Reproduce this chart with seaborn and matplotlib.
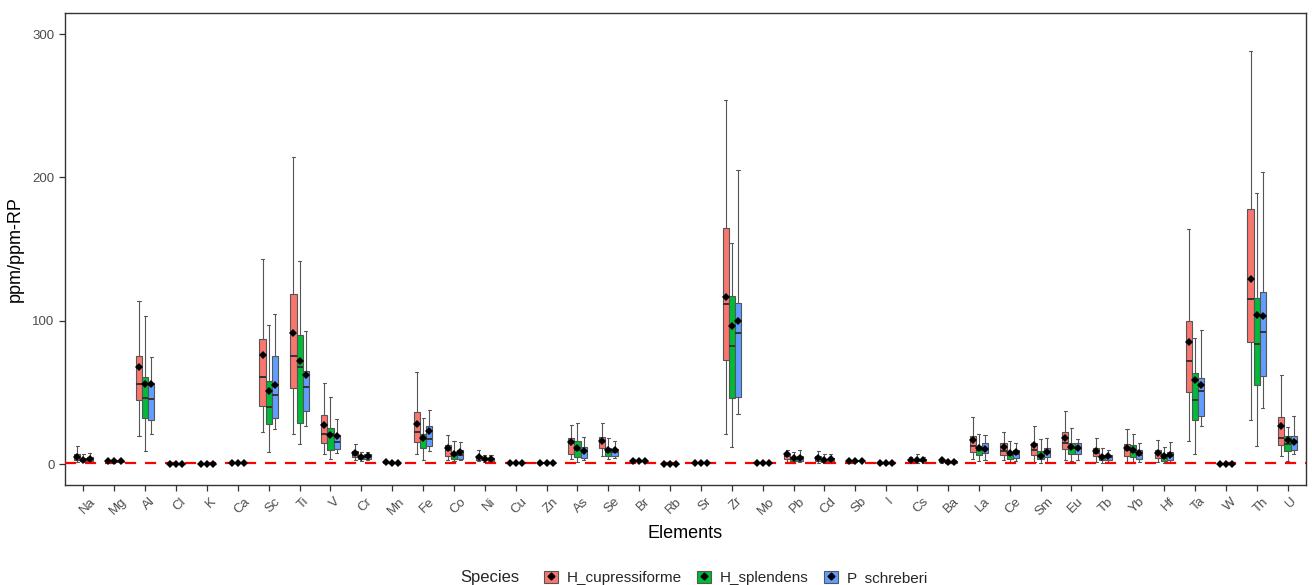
import pandas as pd
import numpy as np
import matplotlib
matplotlib.use('Agg')
import matplotlib.pyplot as plt
import matplotlib.transforms as mtransforms
from matplotlib.patches import Patch
from matplotlib.lines import Line2D
from matplotlib.legend_handler import HandlerTuple
import seaborn as sns

elements = ['Na', 'Mg', 'Al', 'Cl', 'K', 'Ca', 'Sc', 'Ti', 'V', 'Cr', 'Mn', 'Fe', 'Co', 'Ni',
            'Cu', 'Zn', 'As', 'Se', 'Br', 'Rb', 'Sr', 'Zr', 'Mo', 'Pb', 'Cd', 'Sb', 'I', 'Cs',
            'Ba', 'La', 'Ce', 'Sm', 'Eu', 'Tb', 'Yb', 'Hf', 'Ta', 'W', 'Th', 'U']
species = ['H_cupressiforme', 'H_splendens', 'P_schreberi']
colors = ['#F8766D', '#00BA38', '#619CFF']

# box stats per species: whisker low, Q1, median, Q3, whisker high, and mean
hc_lo = [1.5, 1.3, 19.3, 0.02, 0.02, 0.5, 22.3, 20.7, 6.7, 2.5, 0.5, 6.7, 2.8, 1.8, 0.3, 0.3, 3.5, 5.3, 1.5, 0.05,
         0.6, 21.2, 0.4, 1.5, 1.0, 1.5, 0.3, 1.0, 0.8, 3.5, 2.5, 1.5, 2.8, 1.5, 1.5, 1.5, 16.3, 0.05, 30.7, 5.6]
hc_q1 = [2.8, 1.6, 44.4, 0.05, 0.05, 0.7, 40.5, 52.8, 14.4, 4.7, 0.8, 15.1, 5.8, 3.0, 0.4, 0.4, 7.0, 10.9, 2.0, 0.1,
         0.8, 72.4, 0.6, 3.5, 2.0, 1.8, 0.5, 1.8, 1.5, 8.6, 6.3, 6.3, 10.2, 5.3, 5.8, 3.9, 50.0, 0.1, 85.3, 13.0]
hc_med = [4.0, 1.9, 56.0, 0.1, 0.1, 0.8, 60.5, 75.4, 20.7, 6.0, 1.1, 22.6, 9.8, 4.5, 0.5, 0.5, 14.4, 15.5, 2.3, 0.2,
          1.0, 112.0, 0.8, 5.5, 3.5, 2.1, 0.6, 2.5, 2.2, 12.6, 9.0, 9.8, 14.9, 7.5, 9.8, 7.4, 71.7, 0.2, 115.1, 18.4]
hc_q3 = [6.7, 2.2, 75.6, 0.15, 0.15, 1.0, 87.5, 118.6, 34.0, 9.1, 1.4, 36.0, 13.3, 5.8, 0.6, 0.6, 17.9, 18.6, 2.6, 0.3,
         1.2, 164.9, 1.0, 7.2, 5.5, 2.4, 0.7, 3.5, 3.0, 19.5, 14.7, 14.9, 22.6, 11.2, 14.0, 9.8, 99.8, 0.3, 177.7, 33.0]
hc_hi = [12.5, 2.6, 113.5, 0.3, 0.3, 1.3, 143.3, 214.2, 56.3, 14.2, 1.9, 64.4, 20.5, 9.5, 0.8, 0.8, 27.0, 28.8, 3.2, 0.4,
         1.5, 254.0, 1.3, 9.8, 9.1, 3.0, 0.9, 5.1, 4.5, 32.6, 22.1, 26.5, 37.0, 18.4, 24.2, 16.7, 164.0, 0.4, 288.4, 61.9]
hc_mean = [5.0, 2.0, 67.7, 0.1, 0.1, 0.9, 76.3, 91.2, 27.2, 7.9, 1.3, 27.9, 10.9, 5.1, 0.5, 0.5, 15.6, 16.3, 2.2, 0.2,
           1.0, 116.8, 0.8, 6.7, 3.9, 2.3, 0.6, 2.8, 2.8, 16.7, 11.6, 13.3, 18.4, 9.3, 10.9, 7.9, 85.1, 0.2, 129.1, 26.3]

hs_lo = [1.2, 1.2, 9.3, 0.02, 0.02, 0.5, 8.6, 13.7, 3.3, 2.0, 0.4, 2.8, 2.0, 1.5, 0.3, 0.3, 1.6, 3.5, 1.5, 0.05,
         0.6, 12.1, 0.4, 1.0, 0.8, 1.5, 0.3, 1.0, 0.6, 2.0, 1.5, 1.0, 2.0, 1.0, 1.5, 0.8, 6.7, 0.05, 12.8, 2.1]
hs_q1 = [2.0, 1.5, 32.3, 0.05, 0.05, 0.7, 27.9, 28.4, 9.8, 3.5, 0.6, 10.9, 3.7, 2.5, 0.4, 0.4, 5.1, 5.6, 1.8, 0.1,
         0.8, 45.8, 0.6, 2.0, 1.5, 1.8, 0.5, 1.8, 1.0, 6.3, 3.5, 3.3, 6.8, 2.5, 5.0, 2.0, 30.9, 0.1, 55.4, 9.1]
hs_med = [3.0, 1.7, 46.3, 0.1, 0.1, 0.8, 40.0, 67.4, 20.7, 4.8, 0.8, 17.2, 6.0, 3.3, 0.5, 0.5, 9.5, 8.5, 2.1, 0.2,
          1.0, 82.1, 0.8, 3.5, 2.5, 2.1, 0.6, 2.5, 1.5, 9.8, 6.0, 5.5, 11.0, 4.5, 8.5, 4.5, 44.7, 0.2, 83.5, 14.0]
hs_q3 = [4.5, 2.0, 60.7, 0.15, 0.15, 1.0, 57.7, 90.2, 25.1, 6.5, 1.1, 20.9, 8.4, 4.3, 0.6, 0.6, 16.0, 11.2, 2.4, 0.3,
         1.2, 117.0, 1.0, 5.0, 3.5, 2.4, 0.7, 3.5, 2.0, 12.8, 8.5, 9.3, 14.4, 6.5, 13.0, 7.2, 63.3, 0.3, 115.6, 19.5]
hs_hi = [7.0, 2.4, 103.3, 0.3, 0.3, 1.3, 97.0, 141.9, 46.5, 8.5, 1.4, 32.3, 15.8, 6.0, 0.8, 0.8, 28.8, 18.1, 3.0, 0.4,
         1.5, 154.0, 1.3, 8.5, 7.0, 3.0, 0.9, 6.7, 3.0, 20.7, 16.0, 17.4, 24.9, 11.4, 20.9, 11.6, 87.7, 0.4, 188.9, 25.6]
hs_mean = [3.0, 1.8, 56.0, 0.1, 0.1, 0.9, 50.7, 71.7, 20.2, 5.1, 0.9, 18.4, 7.0, 3.7, 0.5, 0.5, 11.4, 9.8, 2.0, 0.2,
           1.0, 96.1, 0.8, 3.9, 2.8, 2.3, 0.6, 2.8, 1.7, 10.9, 7.9, 5.8, 11.6, 5.1, 9.5, 5.8, 58.6, 0.2, 104.2, 16.7]

ps_lo = [1.5, 1.2, 20.7, 0.02, 0.02, 0.5, 24.4, 26.5, 7.9, 2.5, 0.3, 9.1, 2.5, 1.5, 0.3, 0.3, 3.0, 4.0, 1.5, 0.05,
         0.6, 34.7, 0.4, 1.2, 1.0, 1.5, 0.3, 1.0, 0.6, 3.0, 2.0, 1.5, 3.0, 1.2, 1.5, 1.2, 26.7, 0.05, 38.9, 6.7]
ps_q1 = [2.3, 1.5, 30.7, 0.05, 0.05, 0.7, 31.9, 37.2, 10.2, 3.8, 0.5, 12.6, 3.5, 2.3, 0.4, 0.4, 4.4, 5.6, 1.8, 0.1,
         0.8, 47.0, 0.6, 2.2, 1.8, 1.8, 0.5, 1.8, 1.0, 7.7, 4.5, 4.6, 6.8, 3.0, 3.5, 3.0, 33.7, 0.1, 61.6, 9.8]
ps_med = [3.4, 1.8, 45.6, 0.1, 0.1, 0.8, 48.2, 53.5, 15.4, 5.0, 0.7, 17.4, 6.0, 3.2, 0.5, 0.5, 9.3, 8.5, 2.1, 0.2,
          1.0, 91.2, 0.8, 3.8, 3.0, 2.1, 0.6, 2.5, 1.5, 10.5, 7.0, 7.5, 11.0, 5.0, 6.5, 5.5, 50.9, 0.2, 92.1, 16.3]
ps_q3 = [5.2, 2.0, 56.7, 0.15, 0.15, 1.0, 75.6, 65.1, 20.2, 6.8, 0.9, 26.7, 9.6, 4.2, 0.6, 0.6, 12.1, 10.5, 2.4, 0.3,
         1.2, 112.1, 1.0, 5.5, 4.5, 2.4, 0.7, 3.3, 2.0, 14.7, 9.5, 11.0, 14.4, 6.5, 9.8, 8.5, 59.8, 0.3, 119.8, 19.5]
ps_hi = [7.6, 2.4, 74.7, 0.3, 0.3, 1.3, 104.9, 93.0, 31.6, 8.6, 1.2, 37.7, 15.4, 6.0, 0.8, 0.8, 18.6, 16.3, 3.0, 0.4,
         1.5, 205.2, 1.3, 9.8, 7.0, 3.0, 0.9, 5.0, 3.0, 20.0, 14.4, 17.9, 17.4, 9.8, 14.4, 15.6, 93.3, 0.4, 204.0, 33.5]
ps_mean = [3.6, 1.8, 55.8, 0.1, 0.1, 0.9, 55.1, 62.1, 19.5, 5.3, 0.7, 23.3, 8.6, 3.5, 0.5, 0.5, 9.3, 9.8, 2.0, 0.2,
           1.0, 99.8, 0.8, 3.9, 3.3, 2.3, 0.6, 2.8, 1.7, 10.2, 8.6, 8.6, 11.4, 5.8, 7.9, 6.3, 55.1, 0.2, 103.3, 15.6]

stats = {
    'H_cupressiforme': [hc_lo, hc_q1, hc_med, hc_q3, hc_hi],
    'H_splendens': [hs_lo, hs_q1, hs_med, hs_q3, hs_hi],
    'P_schreberi': [ps_lo, ps_q1, ps_med, ps_q3, ps_hi],
}
means = {'H_cupressiforme': hc_mean, 'H_splendens': hs_mean, 'P_schreberi': ps_mean}

# five summary values per box -> quartiles come out exactly with whis=(0, 100)
rows = []
for sp in species:
    for stat in stats[sp]:
        for el, v in zip(elements, stat):
            rows.append({'Element': el, 'Species': sp, 'value': v})
box_df = pd.DataFrame(rows)

mean_rows = []
for sp in species:
    for el, v in zip(elements, means[sp]):
        mean_rows.append({'Element': el, 'Species': sp, 'mean': v})
mean_df = pd.DataFrame(mean_rows)

sns.set_style('white')
plt.rcParams['font.family'] = ['Liberation Sans', 'DejaVu Sans']

fig = plt.figure(figsize=(13.12, 5.85), dpi=100)
ax = fig.add_axes([0.0495, 0.171, 0.946, 0.8075])

sns.boxplot(data=box_df, x='Element', y='value', hue='Species', order=elements, hue_order=species,
            palette=colors, width=0.6, whis=(0, 100), linecolor='#555555', linewidth=0.8,
            fliersize=0, saturation=1, legend=False, ax=ax,
            medianprops={'color': '#333333', 'linewidth': 1.4})

ax.axhline(1, color='#FF0000', linestyle=(0, (5, 4)), linewidth=1.6, zorder=3)

sns.pointplot(data=mean_df, x='Element', y='mean', hue='Species', order=elements, hue_order=species,
              palette=['black'] * 3, dodge=0.4, linestyle='none', marker='D', markersize=4.2,
              markeredgewidth=0, errorbar=None, legend=False, ax=ax, zorder=5)

ax.set_xlim(-0.6, 39.6)
ax.set_ylim(-14.6, 315)
ax.set_yticks([0, 100, 200, 300])
ax.set_xlabel('Elements', fontsize=13, color='black', labelpad=5)
ax.set_ylabel('ppm/ppm-RP', fontsize=13, color='black', labelpad=6)

for side in ax.spines.values():
    side.set_color('#333333')
    side.set_linewidth(1.0)
ax.tick_params(axis='both', which='both', direction='out', length=4, width=0.9,
               color='#333333', labelcolor='#4D4D4D', labelsize=9.5,
               bottom=True, left=True)
offset = mtransforms.ScaledTranslation(4 / 100, 0, fig.dpi_scale_trans)
for lab in ax.get_xticklabels():
    lab.set_rotation(45)
    lab.set_ha('center')
    lab.set_va('top')
    lab.set_transform(lab.get_transform() + offset)

# legend at the bottom, title on the left
fig.text(460 / 1312, 0.012, 'Species', fontsize=12, ha='left', va='center')
handles = [(Patch(facecolor=c, edgecolor='#555555', linewidth=0.8),
            Line2D([], [], marker='D', color='black', linestyle='none', markersize=3.5))
           for c in colors]
fig.legend(handles, species, loc='center left', bbox_to_anchor=(530 / 1312, 0.012),
           ncol=3, frameon=False, fontsize=11, handlelength=0.9, handleheight=0.9,
           handletextpad=0.6, columnspacing=1.0,
           handler_map={tuple: HandlerTuple(ndivide=1)})

fig.savefig('out.png', dpi=100, facecolor='white')
